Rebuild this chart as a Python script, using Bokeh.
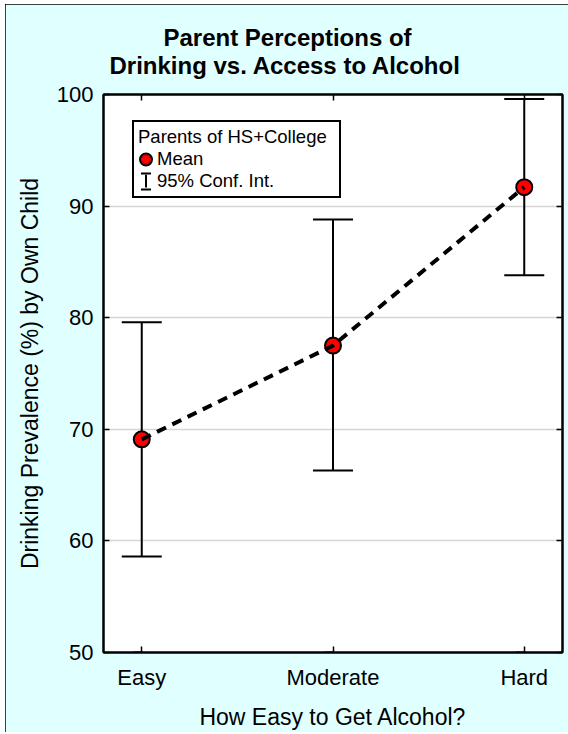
from bokeh.plotting import figure
from bokeh.models import (ColumnDataSource, Range1d, FixedTicker, LinearAxis, Whisker, TeeHead,
                          Legend, LegendItem, Title)
from bokeh.embed import file_html
from bokeh.resources import INLINE

# ---- data ----
categories = ["Easy", "Moderate", "Hard"]
means = [69.1, 77.5, 91.7]
ci_lower = [58.6, 66.3, 83.8]
ci_upper = [79.6, 88.8, 99.6]
y_ticks = [50, 60, 70, 80, 90, 100]
grid_ticks = [60, 70, 80, 90]
title_lines = ["Parent Perceptions of", "Drinking vs. Access to Alcohol"]
x_label = "How Easy to Get Alcohol?"
y_label = "Drinking Prevalence (%) by Own Child"
legend_title = "Parents of HS+College"
legend_labels = ["Mean", "95% Conf. Int."]

FONT = "Liberation Sans"
xpos = list(range(len(categories)))
src = ColumnDataSource(dict(x=xpos, mean=means, lower=ci_lower, upper=ci_upper))

p = figure(width=563, height=728, output_backend="svg", toolbar_location=None,
           x_range=Range1d(-0.2, 2.2), y_range=Range1d(50, 100),
           min_border_left=98, min_border_right=6, min_border_top=90, min_border_bottom=80,
           background_fill_color="white", border_fill_color="#e0ffff",
           outline_line_color="black", outline_line_width=2)
p.styles = {"outline": "2px solid black", "outline-offset": "-2px",
            "margin-left": "5px", "margin-top": "4px"}
# off-screen range used only by the legend's icon renderers
p.extra_y_ranges = {"legend_only": Range1d(1000, 2000)}

bottom_axis = p.below[0]
left_axis = p.left[0]
bottom_axis.ticker = FixedTicker(ticks=xpos)
bottom_axis.major_label_overrides = {i: c for i, c in zip(xpos, categories)}
left_axis.ticker = FixedTicker(ticks=y_ticks)
bottom_axis.axis_label = x_label
left_axis.axis_label = y_label

top_axis = LinearAxis(ticker=FixedTicker(ticks=xpos))
right_axis = LinearAxis(ticker=FixedTicker(ticks=y_ticks))
p.add_layout(top_axis, "above")
p.add_layout(right_axis, "right")

for ax in [bottom_axis, left_axis, top_axis, right_axis]:
    ax.axis_line_color = "black"
    ax.axis_line_width = 2
    ax.major_tick_in = 6
    ax.major_tick_out = 0
    ax.major_tick_line_width = 1.5
    ax.major_tick_line_color = "black"
    ax.minor_tick_line_color = None
    ax.major_label_text_font = FONT
    ax.major_label_text_font_size = "22px"
    ax.major_label_text_color = "black"
    ax.major_label_standoff = 10
    ax.axis_label_text_font = FONT
    ax.axis_label_text_font_size = "23px"
    ax.axis_label_text_font_style = "normal"
    ax.axis_label_text_color = "black"

for ax in [top_axis, right_axis]:
    ax.major_label_text_color = None
    ax.major_label_text_font_size = "1px"
    ax.major_label_standoff = 0

bottom_axis.major_label_standoff = 12
bottom_axis.axis_label_standoff = 11
left_axis.axis_label_standoff = 11

p.xgrid.visible = False
p.ygrid.ticker = FixedTicker(ticks=grid_ticks)
p.ygrid.grid_line_color = "#d6d6d6"
p.ygrid.grid_line_width = 1.5

# ---- error bars ----
whisk = Whisker(source=src, base="x", upper="upper", lower="lower", dimension="height",
                line_color="black", line_width=2, level="underlay",
                upper_head=TeeHead(size=40, line_color="black", line_width=2),
                lower_head=TeeHead(size=40, line_color="black", line_width=2))
p.add_layout(whisk)

# ---- means ----
pts = p.scatter("x", "mean", source=src, size=16, fill_color="red",
                line_color="black", line_width=2)
ln = p.line("x", "mean", source=src, line_color="black", line_width=4, line_dash="10 7")

# ---- legend icons (mapped to the off-screen range, so only the legend shows them) ----
hid = dict(source=src, y_range_name="legend_only")
ann = p.annulus(x="x", y="mean", inner_radius=0.01, outer_radius=0.02,
                fill_color="red", line_color="black", line_width=2, **hid)
dot = p.scatter(x="x", y="mean", size=6, fill_color="red",
                line_color="red", line_width=2, **hid)
caps = p.vbar(x="x", top="upper", bottom="lower", width=0.1,
              fill_color=None, line_color="black", line_width=2,
              line_dash="10 18", line_dash_offset=27, **hid)
stem = p.ellipse(x="x", y="mean", width=0.0005, height=500,
                 fill_color=None, line_color="black", line_width=2, **hid)

legend = Legend(title=legend_title,
                items=[LegendItem(label=legend_labels[0], renderers=[ann, dot]),
                       LegendItem(label=legend_labels[1], renderers=[caps, stem])],
                location=(29, 454), glyph_width=15, glyph_height=20, label_width=178,
                padding=4, spacing=0, margin=0, title_standoff=0, label_standoff=4,
                border_line_color="black", border_line_width=2, border_line_alpha=1.0,
                background_fill_color="white", background_fill_alpha=1.0,
                label_text_font=FONT, label_text_font_size="18.5px", label_text_color="black",
                title_text_font=FONT, title_text_font_size="18.5px",
                title_text_font_style="normal", title_text_color="black")
p.add_layout(legend, "center")

# ---- title: two lines, each centred over the whole panel ----
t2 = Title(text=title_lines[1], align="left", offset=6, standoff=31,
           text_font=FONT, text_font_size="24px", text_font_style="bold", text_color="black")
t1 = Title(text=title_lines[0], align="left", offset=60, standoff=-32,
           text_font=FONT, text_font_size="24px", text_font_style="bold", text_color="black")
p.add_layout(t2, "above")
p.add_layout(t1, "above")

open("out.html", "w").write(file_html(p, INLINE))
